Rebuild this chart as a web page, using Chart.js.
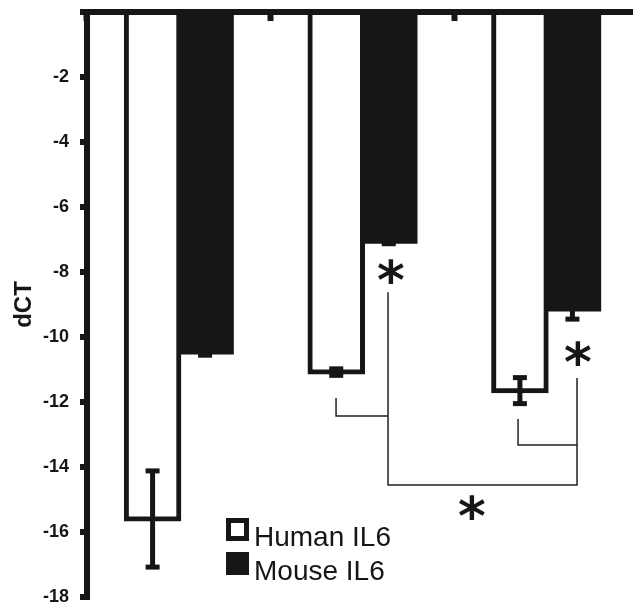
<!DOCTYPE html>
<html>
<head>
<meta charset="utf-8">
<title>dCT - Human IL6 / Mouse IL6</title>
<script src="https://cdn.jsdelivr.net/npm/chart.js@4.4.1/dist/chart.umd.min.js"></script>
<style>
  html, body { margin: 0; padding: 0; background: #fff; overflow: hidden; }
  #wrap { width: 638px; height: 611px; }
</style>
</head>
<body>
<div id="wrap"><canvas id="chart"></canvas></div>
<script>
// data
const categories = ['1', '2', '3'];
const humanIL6 = [-15.6, -11.08, -11.65];
const humanErr = [1.48, 0.1, 0.4];
const mouseIL6 = [-10.46, -7.05, -9.14];
const mouseErr = [0.1, 0.08, 0.31];
const yTicks = [0, -2, -4, -6, -8, -10, -12, -14, -16, -18];

// significance brackets: points as [category position, dCT]
const brackets = [
  [[0.856, -11.88], [0.856, -12.43], [1.139, -12.43]],
  [[1.139, -8.62], [1.139, -14.55], [2.168, -14.55], [2.168, -11.26]],
  [[1.847, -12.52], [1.847, -13.32], [2.168, -13.32]]
];
const stars = [[1.155, -7.97], [2.173, -10.52], [1.596, -15.26]];

const ink = '#161616';
Chart.defaults.font.family = '"Liberation Sans", Arial, sans-serif';
Chart.defaults.color = ink;

// error bars (stem + caps)
const errorBars = {
  id: 'errorBars',
  afterDatasetsDraw(chart) {
    const {ctx, scales: {y}} = chart;
    ctx.save();
    ctx.fillStyle = ink;
    chart.data.datasets.forEach((ds, i) => {
      chart.getDatasetMeta(i).data.forEach((bar, j) => {
        const top = y.getPixelForValue(ds.data[j] + ds.errors[j]);
        const bot = y.getPixelForValue(ds.data[j] - ds.errors[j]);
        ctx.fillRect(bar.x - 2.5, top, 5, bot - top);
        ctx.fillRect(bar.x - 7, top - 2.5, 14, 5);
        ctx.fillRect(bar.x - 7, bot - 2.5, 14, 5);
      });
    });
    ctx.restore();
  }
};

// brackets and asterisks
const significance = {
  id: 'significance',
  afterDatasetsDraw(chart) {
    const {ctx, scales: {x, y}} = chart;
    ctx.save();
    ctx.strokeStyle = '#222';
    ctx.lineWidth = 1.5;
    brackets.forEach(pts => {
      ctx.beginPath();
      pts.forEach(([cx, cy], k) => {
        const px = x.getPixelForValue(cx), py = y.getPixelForValue(cy);
        if (k === 0) ctx.moveTo(px, py); else ctx.lineTo(px, py);
      });
      ctx.stroke();
    });

    const starFont = '"DejaVu Sans", sans-serif';
    ctx.font = 'bold 100px ' + starFont;
    let m = ctx.measureText('*');
    const size = 100 * 26 / (m.actualBoundingBoxLeft + m.actualBoundingBoxRight);
    ctx.font = 'bold ' + size + 'px ' + starFont;
    m = ctx.measureText('*');
    ctx.fillStyle = ink;
    ctx.textAlign = 'left';
    ctx.textBaseline = 'alphabetic';
    stars.forEach(([cx, cy]) => {
      const px = x.getPixelForValue(cx), py = y.getPixelForValue(cy);
      ctx.fillText('*',
        px - (m.actualBoundingBoxRight - m.actualBoundingBoxLeft) / 2,
        py + (m.actualBoundingBoxAscent - m.actualBoundingBoxDescent) / 2);
    });
    ctx.restore();
  }
};

// legend inside the plot, lower middle
const legendBox = {
  id: 'legendBox',
  afterDraw(chart) {
    const {ctx, chartArea} = chart;
    const x0 = chartArea.left + 139;
    const y0 = chartArea.bottom - 79;
    ctx.save();
    ctx.font = '28px "Liberation Sans", Arial, sans-serif';
    ctx.textBaseline = 'alphabetic';
    chart.data.datasets.forEach((ds, i) => {
      const top = y0 + i * 34;
      ctx.fillStyle = ink;
      ctx.fillRect(x0, top, 23, 23);
      if (ds.borderWidth) {
        ctx.fillStyle = ds.backgroundColor;
        ctx.fillRect(x0 + 5, top + 5, 13, 13);
      }
      ctx.fillStyle = ink;
      ctx.fillText(ds.label, x0 + 28, top + 28);
    });
    ctx.restore();
  }
};

new Chart(document.getElementById('chart'), {
  type: 'bar',
  data: {
    labels: categories,
    datasets: [
      {
        label: 'Human IL6',
        data: humanIL6,
        errors: humanErr,
        backgroundColor: '#fff',
        borderColor: ink,
        borderWidth: 5,
        inflateAmount: 2.5
      },
      {
        label: 'Mouse IL6',
        data: mouseIL6,
        errors: mouseErr,
        backgroundColor: ink,
        borderWidth: 0,
        inflateAmount: 2.5
      }
    ]
  },
  options: {
    responsive: true,
    maintainAspectRatio: false,
    animation: false,
    layout: { padding: { top: 12, bottom: 14, left: 0, right: 0 } },
    datasets: { bar: { categoryPercentage: 0.5717, barPercentage: 1 } },
    plugins: { legend: { display: false }, tooltip: { enabled: false } },
    scales: {
      x: {
        position: 'top',
        afterFit: s => { s.height = 0; },
        border: { display: false },
        grid: { drawOnChartArea: false, color: ink, tickWidth: 6, tickLength: -9, offset: true },
        ticks: { display: false }
      },
      y: {
        min: -18,
        max: 0,
        z: 1,
        afterFit: s => {
          s.width = 87;
          s.paddingTop = 0;
          s.paddingBottom = 0;
        },
        afterBuildTicks: s => { s.ticks = yTicks.map(v => ({ value: v })); },
        border: { display: true, width: 6, color: ink },
        grid: {
          color: ink,
          lineWidth: c => (c.tick && c.tick.value === 0 ? 6 : 0),
          tickWidth: 6,
          tickLength: 7
        },
        ticks: {
          color: ink,
          padding: 11,
          font: { size: 18, weight: 'bold' },
          callback: v => (v === 0 ? '' : String(v))
        },
        title: {
          display: true,
          text: 'dCT',
          color: ink,
          font: { size: 24, weight: 'bold' },
          padding: { top: 10, bottom: 0 }
        }
      }
    }
  },
  plugins: [errorBars, significance, legendBox]
});
</script>
</body>
</html>
